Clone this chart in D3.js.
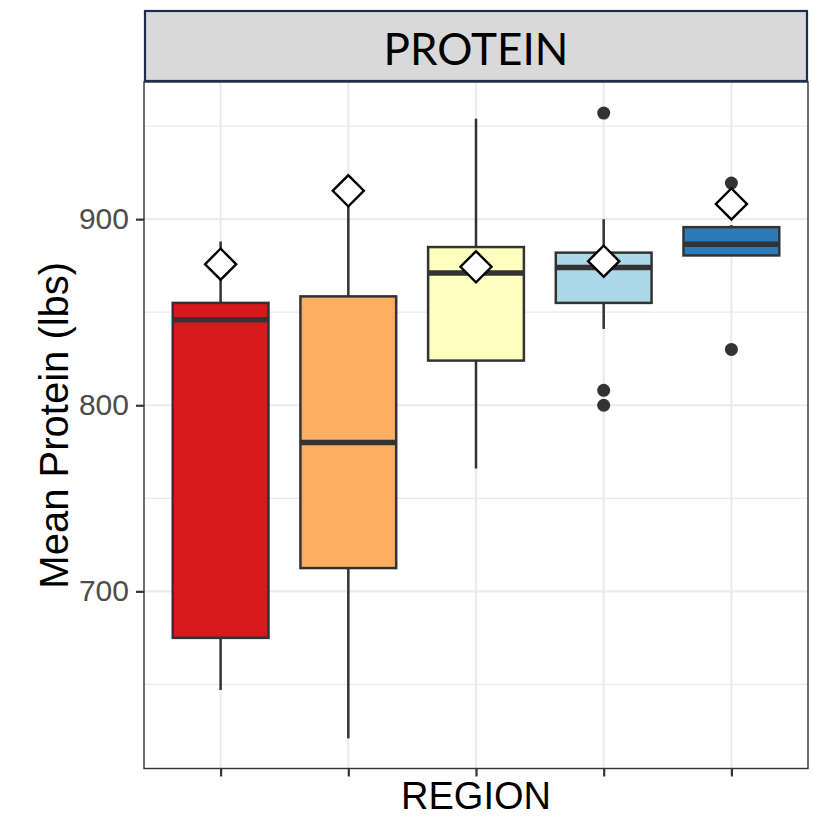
<!DOCTYPE html>
<html>
<head>
<meta charset="utf-8">
<script src="https://cdn.jsdelivr.net/npm/d3@7"></script>
<style>
  html, body { margin:0; padding:0; background:#fff; }
  svg { display:block; }
</style>
</head>
<body>
<div id="chart"></div>
<script>
// 数据
var regions   = ['Region 1', 'Region 2', 'Region 3', 'Region 4', 'Region 5'];
var colors    = ['#D7191C', '#FDAE61', '#FFFFBF', '#ABD9E9', '#2C7BB6'];
var q1        = [675, 712.5, 824, 855, 880.5];
var median    = [846, 780, 871, 874, 886.5];
var q3        = [855, 858.5, 885, 882, 895.7];
var whiskLow  = [647, 621, 766, 841, 880.5];
var whiskHigh = [888, 913, 954, 900, 896.8];
var means     = [875.8, 915.2, 874.4, 877.4, 908.2];
var outliers  = [[], [], [], [957, 808, 800], [919.4, 830]];
var yTicks    = [700, 800, 900];
var yMinor    = [650, 750, 850, 950];

var width = 813, height = 818;
var panel = {left:144, right:808, top:82, bottom:768.5};

var svg = d3.select('#chart').append('svg')
    .attr('width', width)
    .attr('height', height);

var x = d3.scalePoint().domain(regions).range([panel.left, panel.right]).padding(0.6);
var y = d3.scaleLinear().domain([604.8, 973.7]).range([panel.bottom, panel.top]);
var bw = x.step() * 0.75;

//网格
var grid = svg.append('g');
grid.selectAll('.minor').data(yMinor).enter().append('line')
    .attr('x1', panel.left).attr('x2', panel.right)
    .attr('y1', function(d){ return y(d); }).attr('y2', function(d){ return y(d); })
    .style('stroke', '#EBEBEB').style('stroke-width', 1.2);
grid.selectAll('.major').data(yTicks).enter().append('line')
    .attr('x1', panel.left).attr('x2', panel.right)
    .attr('y1', function(d){ return y(d); }).attr('y2', function(d){ return y(d); })
    .style('stroke', '#EBEBEB').style('stroke-width', 2.2);
grid.selectAll('.vmajor').data(regions).enter().append('line')
    .attr('x1', function(d){ return x(d); }).attr('x2', function(d){ return x(d); })
    .attr('y1', panel.top).attr('y2', panel.bottom)
    .style('stroke', '#EBEBEB').style('stroke-width', 2.2);

//箱线图
var boxes = svg.append('g');
regions.forEach(function(r, i){
    var cx = x(r);
    var g = boxes.append('g');
    g.append('line')
        .attr('x1', cx).attr('x2', cx)
        .attr('y1', y(q3[i])).attr('y2', y(whiskHigh[i]))
        .style('stroke', '#333').style('stroke-width', 2.5);
    g.append('line')
        .attr('x1', cx).attr('x2', cx)
        .attr('y1', y(q1[i])).attr('y2', y(whiskLow[i]))
        .style('stroke', '#333').style('stroke-width', 2.5);
    g.append('rect')
        .attr('x', cx - bw/2).attr('width', bw)
        .attr('y', y(q3[i])).attr('height', y(q1[i]) - y(q3[i]))
        .style('fill', colors[i]).style('stroke', '#333').style('stroke-width', 2.5);
    g.append('line')
        .attr('x1', cx - bw/2).attr('x2', cx + bw/2)
        .attr('y1', y(median[i])).attr('y2', y(median[i]))
        .style('stroke', '#333').style('stroke-width', 5.5);
    outliers[i].forEach(function(v){
        g.append('circle')
            .attr('cx', cx).attr('cy', y(v)).attr('r', 6.5)
            .style('fill', '#333');
    });
});

//均值
var diamond = d3.symbol().type(d3.symbolSquare).size(22*22);
svg.append('g').selectAll('path').data(regions).enter().append('path')
    .attr('d', diamond)
    .attr('transform', function(d, i){ return 'translate(' + x(d) + ',' + y(means[i]) + ') rotate(45)'; })
    .style('fill', '#fff').style('stroke', '#000').style('stroke-width', 2.4);

//边框
svg.append('rect')
    .attr('x', panel.left).attr('y', panel.top)
    .attr('width', panel.right - panel.left).attr('height', panel.bottom - panel.top)
    .style('fill', 'none').style('stroke', '#333').style('stroke-width', 1.4);

//坐标轴
var axisY = d3.axisLeft(y).tickValues(yTicks).tickSize(8).tickPadding(7);
var $axisY = svg.append('g').attr('transform', 'translate(' + panel.left + ',0)').call(axisY);
$axisY.select('.domain').remove();
$axisY.selectAll('line').style('stroke', '#333').style('stroke-width', 2.2);
$axisY.selectAll('text').style('font-family', 'Liberation Sans, Arial, sans-serif')
    .style('font-size', '30px').style('fill', '#4D4D4D');

var axisX = d3.axisBottom(x).tickSize(8).tickFormat('');
var $axisX = svg.append('g').attr('transform', 'translate(0,' + panel.bottom + ')').call(axisX);
$axisX.select('.domain').remove();
$axisX.selectAll('line').style('stroke', '#333').style('stroke-width', 2.2);

//标题条
svg.append('rect')
    .attr('x', 145).attr('y', 11)
    .attr('width', 662).attr('height', 70)
    .style('fill', '#D9D9D9').style('stroke', '#1B2E4C').style('stroke-width', 2.2);
svg.append('text')
    .attr('x', (panel.left + panel.right)/2).attr('y', 65)
    .attr('text-anchor', 'middle')
    .style('font-family', 'Lato, sans-serif').style('font-size', '44px').style('fill', '#000')
    .text('PROTEIN');

//轴标题
svg.append('text')
    .attr('x', (panel.left + panel.right)/2).attr('y', 809)
    .attr('text-anchor', 'middle')
    .style('font-family', 'Liberation Sans, Arial, sans-serif').style('font-size', '38px').style('fill', '#000')
    .text('REGION');
svg.append('text')
    .attr('transform', 'translate(68,' + ((panel.top + panel.bottom)/2) + ') rotate(-90)')
    .attr('text-anchor', 'middle')
    .style('font-family', 'Liberation Sans, Arial, sans-serif').style('font-size', '40px').style('fill', '#000')
    .text('Mean Protein (lbs)');
</script>
</body>
</html>
